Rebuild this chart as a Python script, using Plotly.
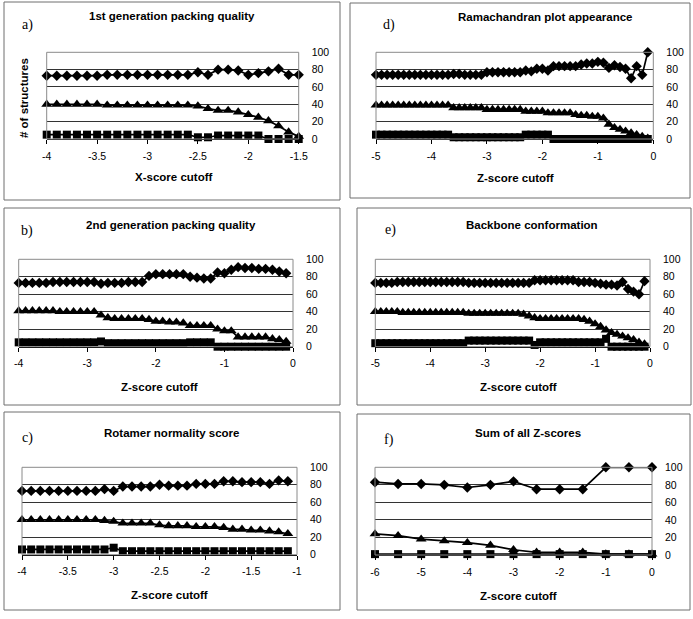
import plotly.graph_objects as go

# ---------------- data ----------------
# a) 1st generation packing quality
a_x = [-4.0, -3.9, -3.8, -3.7, -3.6, -3.5, -3.4, -3.3, -3.2, -3.1, -3.0, -2.9, -2.8,
       -2.7, -2.6, -2.5, -2.4, -2.3, -2.2, -2.1, -2.0, -1.9, -1.8, -1.7, -1.6, -1.5]
a_diamond = [73, 73, 73, 73, 73, 73, 74, 74, 74, 74, 74, 74, 74,
             74, 74, 77, 74, 80, 80, 79, 74, 76, 78, 81, 74, 74]
a_triangle = [40, 40, 40, 40, 40, 40, 39, 39, 39, 39, 39, 39, 39,
              39, 39, 38, 35, 33, 33, 31, 28, 25, 21, 15, 8, 3]
a_square = [5, 5, 5, 5, 5, 5, 5, 5, 5, 5, 5, 5, 5,
            5, 5, 2, 2, 4, 4, 4, 4, 4, 0, 0, 0, 0]
a_ticks = [-4, -3.5, -3, -2.5, -2, -1.5]
a_ticklabels = ["-4", "-3.5", "-3", "-2.5", "-2", "-1.5"]

# d) Ramachandran plot appearance
d_x = [-5.0, -4.9, -4.8, -4.7, -4.6, -4.5, -4.4, -4.3, -4.2, -4.1,
       -4.0, -3.9, -3.8, -3.7, -3.6, -3.5, -3.4, -3.3, -3.2, -3.1,
       -3.0, -2.9, -2.8, -2.7, -2.6, -2.5, -2.4, -2.3, -2.2, -2.1,
       -2.0, -1.9, -1.8, -1.7, -1.6, -1.5, -1.4, -1.3, -1.2, -1.1,
       -1.0, -0.9, -0.8, -0.7, -0.6, -0.5, -0.4, -0.3, -0.2, -0.1]
d_diamond = [74, 74, 74, 74, 74, 74, 74, 74, 74, 74,
             74, 74, 74, 74, 75, 75, 74, 74, 74, 74,
             77, 77, 77, 77, 77, 77, 77, 79, 78, 81,
             81, 79, 84, 84, 84, 84, 84, 86, 87, 87,
             89, 88, 82, 85, 83, 81, 70, 84, 74, 100]
d_triangle = [39, 39, 39, 39, 39, 39, 39, 39, 39, 39,
              39, 39, 39, 39, 36, 36, 36, 36, 36, 36,
              34, 34, 34, 34, 34, 34, 34, 32, 32, 32,
              32, 30, 30, 30, 30, 30, 28, 27, 27, 26,
              26, 24, 17, 13, 11, 9, 7, 5, 3, 1]
d_square = [5, 5, 5, 5, 5, 5, 5, 5, 5, 5,
            5, 5, 5, 5, 2, 2, 2, 2, 2, 2,
            2, 2, 2, 2, 2, 2, 2, 5, 5, 5,
            5, 5, 0, 0, 0, 0, 0, 0, 0, 0,
            0, 0, 0, 0, 0, 0, 0, 0, 0, 0]
d_ticks = [-5, -4, -3, -2, -1, 0]
d_ticklabels = ["-5", "-4", "-3", "-2", "-1", "0"]

# b) 2nd generation packing quality
b_x = [-4.0, -3.9, -3.8, -3.7, -3.6, -3.5, -3.4, -3.3, -3.2, -3.1,
       -3.0, -2.9, -2.8, -2.7, -2.6, -2.5, -2.4, -2.3, -2.2, -2.1,
       -2.0, -1.9, -1.8, -1.7, -1.6, -1.5, -1.4, -1.3, -1.2, -1.1,
       -1.0, -0.9, -0.8, -0.7, -0.6, -0.5, -0.4, -0.3, -0.2, -0.1]
b_diamond = [73, 73, 73, 73, 73, 74, 74, 74, 74, 74,
             74, 74, 72, 73, 73, 73, 74, 74, 74, 81,
             83, 83, 83, 83, 83, 80, 79, 78, 78, 85,
             84, 88, 91, 90, 90, 89, 89, 88, 86, 84]
b_triangle = [41, 41, 41, 41, 41, 41, 40, 40, 40, 40,
              40, 40, 36, 33, 32, 32, 32, 32, 32, 31,
              29, 29, 28, 28, 27, 24, 24, 24, 24, 20,
              18, 18, 11, 11, 11, 11, 11, 9, 8, 6]
b_square = [5, 5, 5, 5, 5, 5, 5, 5, 5, 5,
            5, 5, 6, 4, 4, 4, 4, 4, 4, 4,
            4, 4, 4, 4, 4, 5, 5, 5, 5, 0,
            0, 0, 0, 0, 0, 0, 0, 0, 0, 0]
b_ticks = [-4, -3, -2, -1, 0]
b_ticklabels = ["-4", "-3", "-2", "-1", "0"]

# e) Backbone conformation
e_x = [-5.0, -4.9, -4.8, -4.7, -4.6, -4.5, -4.4, -4.3, -4.2, -4.1,
       -4.0, -3.9, -3.8, -3.7, -3.6, -3.5, -3.4, -3.3, -3.2, -3.1,
       -3.0, -2.9, -2.8, -2.7, -2.6, -2.5, -2.4, -2.3, -2.2, -2.1,
       -2.0, -1.9, -1.8, -1.7, -1.6, -1.5, -1.4, -1.3, -1.2, -1.1,
       -1.0, -0.9, -0.8, -0.7, -0.6, -0.5, -0.4, -0.3, -0.2, -0.1]
e_diamond = [73, 73, 73, 73, 74, 74, 74, 74, 74, 74,
             74, 74, 74, 74, 74, 74, 74, 73, 73, 73,
             73, 73, 73, 73, 73, 73, 73, 73, 73, 76,
             76, 76, 76, 76, 76, 76, 76, 74, 74, 74,
             73, 72, 71, 71, 70, 74, 66, 63, 60, 75]
e_triangle = [40, 40, 40, 40, 40, 39, 39, 39, 39, 39,
              39, 39, 39, 39, 39, 39, 39, 38, 38, 38,
              38, 38, 38, 38, 38, 38, 38, 37, 35, 33,
              32, 32, 32, 32, 32, 32, 32, 32, 31, 29,
              26, 23, 19, 16, 14, 12, 10, 8, 5, 3]
e_square = [4, 4, 4, 4, 4, 4, 4, 4, 4, 4,
            4, 4, 4, 4, 4, 4, 4, 7, 7, 7,
            7, 7, 7, 7, 7, 7, 7, 7, 7, 2,
            5, 5, 5, 5, 5, 5, 5, 5, 5, 5,
            5, 5, 9, 0, 0, 0, 0, 0, 0, 0]
e_ticks = [-5, -4, -3, -2, -1, 0]
e_ticklabels = ["-5", "-4", "-3", "-2", "-1", "0"]

# c) Rotamer normality score
c_x = [-4.0, -3.9, -3.8, -3.7, -3.6, -3.5, -3.4, -3.3, -3.2, -3.1,
       -3.0, -2.9, -2.8, -2.7, -2.6, -2.5, -2.4, -2.3, -2.2, -2.1,
       -2.0, -1.9, -1.8, -1.7, -1.6, -1.5, -1.4, -1.3, -1.2, -1.1]
c_diamond = [73, 73, 73, 73, 73, 73, 73, 73, 73, 75,
             73, 78, 78, 78, 78, 80, 79, 79, 79, 81,
             81, 81, 84, 84, 83, 83, 83, 81, 85, 84]
c_triangle = [40, 40, 40, 40, 40, 40, 40, 40, 40, 39,
              38, 36, 36, 36, 36, 34, 33, 33, 33, 32,
              32, 32, 31, 29, 29, 28, 28, 27, 26, 24]
c_square = [6, 6, 6, 6, 6, 6, 6, 6, 6, 6,
            8, 4, 4, 4, 4, 4, 4, 4, 4, 4,
            4, 4, 4, 4, 4, 4, 4, 4, 4, 4]
c_ticks = [-4, -3.5, -3, -2.5, -2, -1.5, -1]
c_ticklabels = ["-4", "-3.5", "-3", "-2.5", "-2", "-1.5", "-1"]

# f) Sum of all Z-scores
f_x = [-6.0, -5.5, -5.0, -4.5, -4.0, -3.5, -3.0, -2.5, -2.0, -1.5, -1.0, -0.5, 0.0]
f_diamond = [83, 81, 81, 80, 77, 80, 84, 75, 75, 75, 100, 100, 100]
f_triangle = [24, 22, 18, 16, 14, 11, 6, 3, 3, 3, 1, 1, 1]
f_square = [1, 1, 1, 1, 1, 1, 1, 1, 1, 1, 1, 1, 1]
f_ticks = [-6, -5, -4, -3, -2, -1, 0]
f_ticklabels = ["-6", "-5", "-4", "-3", "-2", "-1", "0"]

y_ticks = [0, 20, 40, 60, 80, 100]
y_ticklabels = ["0", "20", "40", "60", "80", "100"]

# ---------------- layout helpers ----------------
W, H = 693, 619


def fx(p):
    return p / W


def fy(p):
    return 1 - p / H


panels = [
    dict(letter="a)", title="1st generation packing quality", xtitle="X-score cutoff",
         x=a_x, series=(a_diamond, a_triangle, a_square), ticks=(a_ticks, a_ticklabels),
         xd=(46.7, 298.7), yd=(52.3, 139.0), xr=[-4, -1.5],
         frame=(4, 2, 340, 200), tpos=(172, 16.5), xtpos=(173, 177), lpos=(27, 25)),
    dict(letter="d)", title="Ramachandran plot appearance", xtitle="Z-score cutoff",
         x=d_x, series=(d_diamond, d_triangle, d_square), ticks=(d_ticks, d_ticklabels),
         xd=(376.0, 653.3), yd=(52.3, 139.0), xr=[-5, 0],
         frame=(350, 3, 690, 198), tpos=(545, 17), xtpos=(515, 178), lpos=(389, 25)),
    dict(letter="b)", title="2nd generation packing quality", xtitle="Z-score cutoff",
         x=b_x, series=(b_diamond, b_triangle, b_square), ticks=(b_ticks, b_ticklabels),
         xd=(18.7, 293.0), yd=(259.3, 346.7), xr=[-4, 0],
         frame=(4, 208, 340, 405), tpos=(170.5, 224.5), xtpos=(159, 387), lpos=(27, 231)),
    dict(letter="e)", title="Backbone conformation", xtitle="Z-score cutoff",
         x=e_x, series=(e_diamond, e_triangle, e_square), ticks=(e_ticks, e_ticklabels),
         xd=(375.3, 650.0), yd=(259.3, 346.7), xr=[-5, 0],
         frame=(357, 208, 691, 405), tpos=(531.5, 224.5), xtpos=(518, 387), lpos=(390, 230)),
    dict(letter="c)", title="Rotamer normality score", xtitle="Z-score cutoff",
         x=c_x, series=(c_diamond, c_triangle, c_square), ticks=(c_ticks, c_ticklabels),
         xd=(22.0, 297.0), yd=(467.3, 554.7), xr=[-4, -1],
         frame=(4, 412, 340, 610), tpos=(171.7, 433), xtpos=(169, 595), lpos=(27, 438)),
    dict(letter="f)", title="Sum of all Z-scores", xtitle="Z-score cutoff",
         x=f_x, series=(f_diamond, f_triangle, f_square), ticks=(f_ticks, f_ticklabels),
         xd=(375.0, 652.0), yd=(467.3, 555.0), xr=[-6, 0],
         frame=(357, 414, 690, 610), tpos=(528, 433), xtpos=(518, 596), lpos=(389, 440)),
]

SANS = "Liberation Sans, Arial, sans-serif"
SERIF = "Liberation Serif, Times New Roman, serif"
symbols = [("diamond", 8), ("triangle-up", 9.5), ("square", 8)]

fig = go.Figure()
shapes = []
annotations = []
layout_axes = {}

for i, p in enumerate(panels):
    n = "" if i == 0 else str(i + 1)
    xa, ya = "x" + n, "y" + n
    for (sym, size), vals in zip(symbols, p["series"]):
        fig.add_trace(go.Scatter(
            x=p["x"], y=vals, xaxis=xa, yaxis=ya, mode="lines+markers",
            line=dict(color="black", width=1.7),
            marker=dict(symbol=sym, size=size, color="black", line=dict(width=0)),
            cliponaxis=False, showlegend=False, hoverinfo="skip"))

    layout_axes["xaxis" + n] = dict(
        domain=[fx(p["xd"][0]), fx(p["xd"][1])], anchor=ya, range=p["xr"],
        tickmode="array", tickvals=p["ticks"][0], ticktext=p["ticks"][1],
        showgrid=False, zeroline=False,
        showline=True, linecolor="black", linewidth=1, automargin=False,
        ticks="outside", ticklen=4, tickcolor="black", tickwidth=1,
        tickfont=dict(family=SANS, size=10.5, color="black"),
        ticklabelstandoff=3, fixedrange=True)
    layout_axes["yaxis" + n] = dict(
        domain=[fy(p["yd"][1]), fy(p["yd"][0])], anchor=xa, range=[0, 100],
        side="right", tickmode="array", tickvals=y_ticks, ticktext=y_ticklabels,
        showgrid=True, gridcolor="#333333",
        gridwidth=1, zeroline=False, showline=False, ticks="", automargin=False,
        tickfont=dict(family=SANS, size=10.5, color="black"),
        ticklabelstandoff=12, fixedrange=True)

    # plot-area border
    shapes.append(dict(type="rect", xref=xa + " domain", yref=ya + " domain",
                       x0=0, x1=1, y0=0, y1=1, line=dict(color="#8a8a8a", width=1),
                       layer="above"))
    # panel frame
    fl, ft, fr, fb = p["frame"]
    shapes.append(dict(type="rect", xref="paper", yref="paper",
                       x0=fx(fl), x1=fx(fr), y0=fy(fb), y1=fy(ft),
                       line=dict(color="#6e6e6e", width=1)))

    annotations.append(dict(text="<b>" + p["title"] + "</b>", xref="paper", yref="paper",
                            x=fx(p["tpos"][0]), y=fy(p["tpos"][1]), showarrow=False,
                            xanchor="center", yanchor="middle",
                            font=dict(family=SANS, size=11.5, color="black")))
    annotations.append(dict(text="<b>" + p["xtitle"] + "</b>", xref="paper", yref="paper",
                            x=fx(p["xtpos"][0]), y=fy(p["xtpos"][1]), showarrow=False,
                            xanchor="center", yanchor="middle",
                            font=dict(family=SANS, size=11.5, color="black")))
    annotations.append(dict(text=p["letter"], xref="paper", yref="paper",
                            x=fx(p["lpos"][0]), y=fy(p["lpos"][1]), showarrow=False,
                            xanchor="center", yanchor="middle",
                            font=dict(family=SERIF, size=14, color="black")))

annotations.append(dict(text="<b># of structures</b>", xref="paper", yref="paper",
                        x=fx(24), y=fy(98), showarrow=False, textangle=-90,
                        xanchor="center", yanchor="middle",
                        font=dict(family=SANS, size=11.5, color="black")))

fig.update_layout(
    width=W, height=H, autosize=False,
    margin=dict(l=0, r=0, t=0, b=0, pad=0, autoexpand=False),
    paper_bgcolor="white", plot_bgcolor="white",
    shapes=shapes, annotations=annotations, **layout_axes)

fig.write_html("out.html",
               config={"displayModeBar": False, "staticPlot": True},
               post_script="document.body.style.margin='0';"
                           "document.body.style.overflow='hidden';")
